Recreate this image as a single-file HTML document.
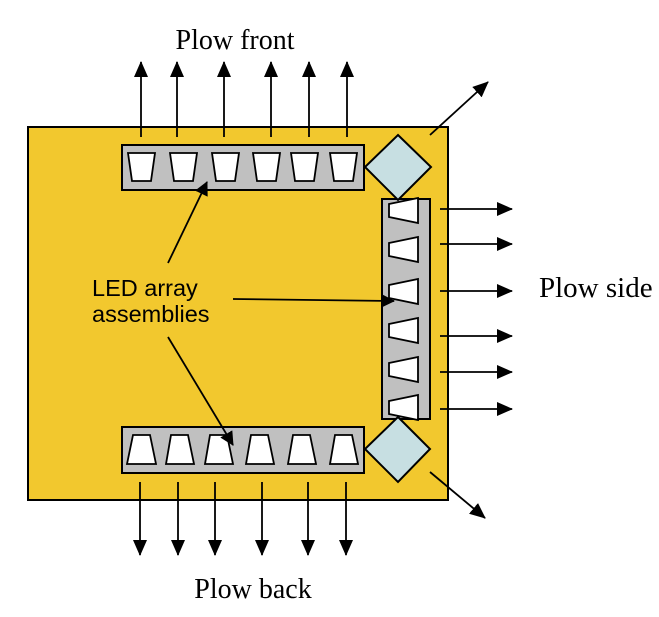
<!DOCTYPE html>
<html><head><style>body{margin:0;background:#fff}svg{display:block}</style></head><body>
<svg width="659" height="617" viewBox="0 0 659 617" xmlns="http://www.w3.org/2000/svg">
<defs><marker id="a" markerWidth="14" markerHeight="14" refX="13" refY="7" orient="auto" markerUnits="userSpaceOnUse"><path d="M0,0 L14,7 L0,14 Z" fill="#000"/></marker>
<marker id="b" markerWidth="16" markerHeight="14" refX="15" refY="7" orient="auto" markerUnits="userSpaceOnUse"><path d="M0,0 L16,7 L0,14 Z" fill="#000"/></marker></defs>
<rect x="28" y="127" width="420" height="373" fill="#F2C82E" stroke="#000" stroke-width="2"/>
<g stroke="#000" stroke-width="1.8" marker-end="url(#b)">
<line x1="141" y1="137" x2="141" y2="62"/><line x1="177" y1="137" x2="177" y2="62"/><line x1="224" y1="137" x2="224" y2="62"/><line x1="271" y1="137" x2="271" y2="62"/><line x1="309" y1="137" x2="309" y2="62"/><line x1="347" y1="137" x2="347" y2="62"/>
<line x1="140" y1="482" x2="140" y2="555"/><line x1="178" y1="482" x2="178" y2="555"/><line x1="215" y1="482" x2="215" y2="555"/><line x1="262" y1="482" x2="262" y2="555"/><line x1="308" y1="482" x2="308" y2="555"/><line x1="346" y1="482" x2="346" y2="555"/>
<line x1="440" y1="209" x2="512" y2="209"/><line x1="440" y1="244" x2="512" y2="244"/><line x1="440" y1="291" x2="512" y2="291"/><line x1="440" y1="336" x2="512" y2="336"/><line x1="440" y1="372" x2="512" y2="372"/><line x1="440" y1="409" x2="512" y2="409"/>
<line x1="430" y1="135" x2="488" y2="82"/><line x1="430" y1="472" x2="485" y2="518"/>
</g>
<g stroke="#000" stroke-width="2" fill="#C0C0C0">
<rect x="122" y="145" width="242" height="45"/><rect x="122" y="427" width="242" height="46"/><rect x="382" y="199" width="48" height="220"/>
</g>
<g stroke="#000" stroke-width="2" fill="#C7DFE2">
<path d="M398,135 L431,167 L398,200 L365,167 Z"/><path d="M398,417 L430,449 L398,482 L365,449 Z"/>
</g>
<g stroke="#000" stroke-width="1.8" fill="#fff">
<path d="M128,153 L155,153 L151,181 L132,181 Z"/>
<path d="M170,153 L197,153 L193,181 L174,181 Z"/>
<path d="M212,153 L239,153 L235,181 L216,181 Z"/>
<path d="M253,153 L280,153 L276,181 L257,181 Z"/>
<path d="M291,153 L318,153 L314,181 L295,181 Z"/>
<path d="M330,153 L357,153 L353,181 L334,181 Z"/>
<path d="M133,435 L150,435 L156,464 L127,464 Z"/>
<path d="M171,435 L188,435 L194,464 L166,464 Z"/>
<path d="M210,435 L227,435 L233,464 L205,464 Z"/>
<path d="M251,435 L268,435 L274,464 L246,464 Z"/>
<path d="M293,435 L310,435 L316,464 L288,464 Z"/>
<path d="M335,435 L352,435 L358,464 L330,464 Z"/>
<path d="M389,204 L418,198 L418,223 L389,217 Z"/>
<path d="M389,243 L418,237 L418,262 L389,256 Z"/>
<path d="M389,285 L418,279 L418,304 L389,298 Z"/>
<path d="M389,324 L418,318 L418,343 L389,337 Z"/>
<path d="M389,363 L418,357 L418,382 L389,376 Z"/>
<path d="M389,401 L418,395 L418,420 L389,414 Z"/>
</g>
<g stroke="#000" stroke-width="1.8" marker-end="url(#a)">
<line x1="168" y1="263" x2="207" y2="182"/><line x1="233" y1="299" x2="394" y2="301"/><line x1="168" y1="337" x2="233" y2="445"/>
</g>
<g font-family="Liberation Serif, serif" font-size="28" fill="#000">
<text x="235" y="49" text-anchor="middle">Plow front</text>
<text x="253" y="598" text-anchor="middle">Plow back</text>
<text x="539" y="297" font-size="29">Plow side</text>
</g>
<g font-family="Liberation Sans, sans-serif" font-size="23.5" fill="#000">
<text x="92" y="296">LED array</text><text x="92" y="322">assemblies</text>
</g>
</svg>
</body></html>
